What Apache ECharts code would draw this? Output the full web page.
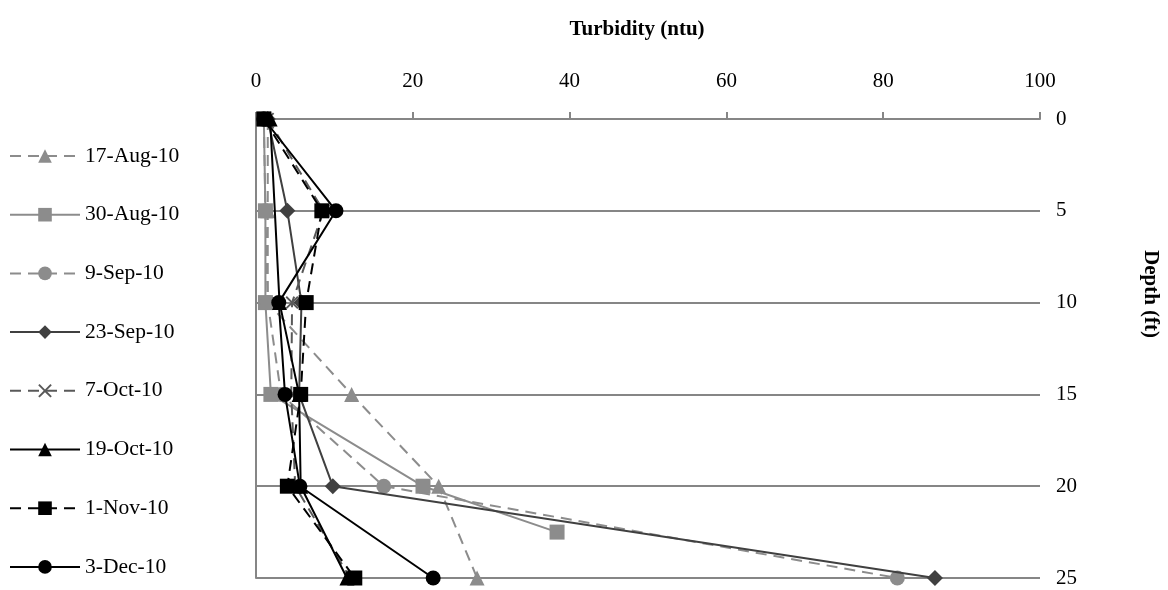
<!DOCTYPE html>
<html>
<head>
<meta charset="utf-8">
<script src="https://cdn.jsdelivr.net/npm/echarts@6/dist/echarts.min.js"></script>
<style>html,body{margin:0;padding:0;background:#fff;}#c{width:1168px;height:590px;}</style>
</head>
<body>
<div id="c"></div>
<script>
const seriesNames = ['17-Aug-10','30-Aug-10','9-Sep-10','23-Sep-10','7-Oct-10','19-Oct-10','1-Nov-10','3-Dec-10'];
const depths = [0, 5, 10, 15, 20, 25];
const aug30Depths = [0, 5, 10, 15, 20, 22.5];
const aug17 = [1.5, 1.5, 1.5, 12.2, 23.3, 28.2];
const aug30 = [1.0, 1.2, 1.2, 1.9, 21.3, 38.4];
const sep9 = [1.0, 1.2, 1.5, 3.2, 16.3, 81.8];
const sep23 = [1.5, 4.0, 5.8, 5.5, 9.8, 86.6];
const oct7 = [1.5, 8.6, 4.6, 4.5, 5.0, 12.0];
const oct19 = [1.8, null, 3.0, 5.5, 5.7, 11.6];
const nov1 = [1.0, 8.4, 6.4, 5.7, 4.0, 12.6];
const dec3 = [1.0, 10.2, 2.9, 3.7, 5.6, 22.6];
const xTicks = [0, 20, 40, 60, 80, 100];
const yTicks = [0, 5, 10, 15, 20, 25];
const xTitle = 'Turbidity (ntu)';
const yTitle = 'Depth (ft)';

const FONT = 'Liberation Serif';
const crossPath = 'path://M0,1L1,0L5,4L9,0L10,1L6,5L10,9L9,10L5,6L1,10L0,9L4,5Z';

function pairs(vals, ds) { return vals.map((v, i) => [v, ds[i]]); }

const DASH = [11, 7];
const styles = [
  {vals: aug17, ds: depths, color: '#8c8c8c', dash: DASH, symbol: 'triangle', size: 15},
  {vals: aug30, ds: aug30Depths, color: '#8c8c8c', dash: 'solid', symbol: 'rect', size: 15},
  {vals: sep9, ds: depths, color: '#8c8c8c', dash: DASH, symbol: 'circle', size: 15},
  {vals: sep23, ds: depths, color: '#404040', dash: 'solid', symbol: 'diamond', size: 16},
  {vals: oct7, ds: depths, color: '#595959', dash: DASH, symbol: crossPath, size: 13},
  {vals: oct19, ds: depths, color: '#000000', dash: 'solid', symbol: 'triangle', size: 15},
  {vals: nov1, ds: depths, color: '#000000', dash: DASH, symbol: 'rect', size: 15},
  {vals: dec3, ds: depths, color: '#000000', dash: 'solid', symbol: 'circle', size: 15}
];

const chart = echarts.init(document.getElementById('c'), null, {renderer: 'canvas'});
chart.setOption({
  animation: false,
  backgroundColor: '#ffffff',
  grid: {left: 256, right: 128, top: 119, bottom: 12, containLabel: false},
  legend: {
    orient: 'vertical',
    left: 4,
    top: 140,
    height: 520,
    itemWidth: 70,
    itemHeight: 17,
    itemGap: 36.7,
    textStyle: {fontFamily: FONT, fontSize: 21.5, color: '#000', lineHeight: 20},
    data: seriesNames
  },
  graphic: [
    {type: 'text', x: 637, y: 30, style: {text: xTitle, font: 'bold 21px "Liberation Serif"', fill: '#000', align: 'center', verticalAlign: 'middle'}},
    {type: 'text', x: 1150, y: 294, rotation: -Math.PI / 2, style: {text: yTitle, font: 'bold 21px "Liberation Serif"', fill: '#000', align: 'center', verticalAlign: 'middle'}}
  ],
  xAxis: {
    type: 'value', position: 'top', min: 0, max: 100, interval: 20,
    axisLine: {show: true, lineStyle: {color: '#868686', width: 2}},
    axisTick: {show: true, inside: false, length: 7, lineStyle: {color: '#868686', width: 2}},
    axisLabel: {fontFamily: FONT, fontSize: 21, color: '#000', margin: 27,
      formatter: v => xTicks.includes(v) ? String(v) : ''},
    splitLine: {show: false}
  },
  yAxis: {
    type: 'value', position: 'right', inverse: true, min: 0, max: 25, interval: 5,
    axisLine: {show: true, lineStyle: {color: '#868686', width: 2}},
    axisTick: {show: true, inside: false, length: 7, lineStyle: {color: '#868686', width: 2}},
    axisLabel: {fontFamily: FONT, fontSize: 21, color: '#000', margin: 16,
      formatter: v => yTicks.includes(v) ? String(v) : ''},
    splitLine: {show: true, lineStyle: {color: '#868686', width: 2}}
  },
  series: styles.map((s, i) => ({
    name: seriesNames[i],
    type: 'line',
    data: pairs(s.vals, s.ds),
    connectNulls: true,
    symbol: s.symbol,
    symbolSize: s.size,
    showAllSymbol: true,
    lineStyle: {color: s.color, width: 2, type: s.dash},
    itemStyle: {color: s.color, borderWidth: 0},
    z: 2 + i
  }))
});
</script>
</body>
</html>
